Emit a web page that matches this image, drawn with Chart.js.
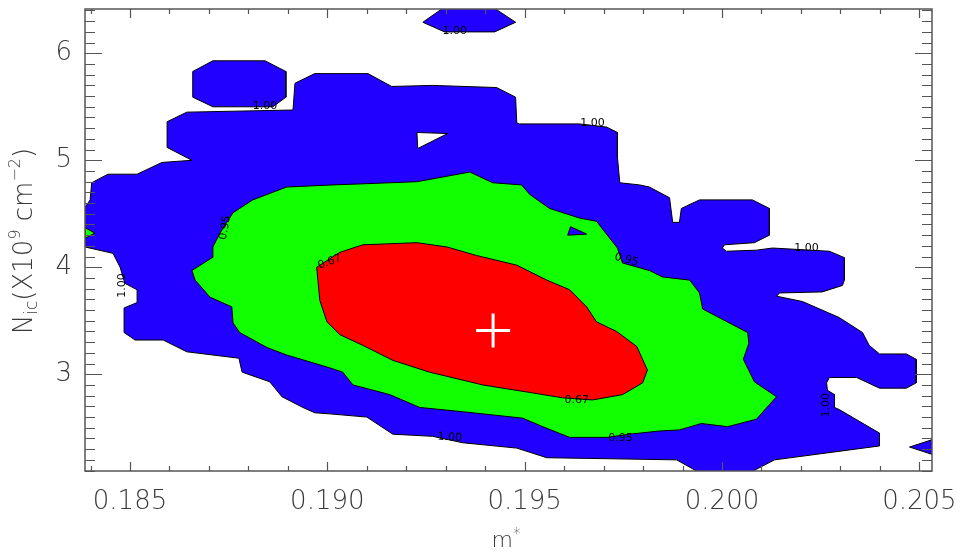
<!DOCTYPE html>
<html lang="en">
<head>
<meta charset="UTF-8">
<title>Contours m* - Nic</title>
<script src="https://cdn.jsdelivr.net/npm/chart.js"></script>
<style>
    html, body { margin: 0; padding: 0; background: #fff; }
    #plot { display: block; }
</style>
</head>
<body>
<canvas id="plot" width="962" height="554"></canvas>
<script>
// axis ranges and ticks
const xRange = [0.18386, 0.20532];
const yRange = [2.096, 6.414];
const xTicks = [0.185, 0.190, 0.195, 0.200, 0.205];
const xTickLabels = ['0.185', '0.190', '0.195', '0.200', '0.205'];
const yTicks = [3, 4, 5, 6];
const yTickLabels = ['3', '4', '5', '6'];
const xMinorStep = 0.001;
const yMinorStep = 0.1;

// level 1.00 (outer) region, [m*, Nic]
const level100 = [
    [0.18386, 4.56], [0.18399, 4.63], [0.18403, 4.79], [0.18444, 4.87], [0.18518, 4.87],
    [0.18581, 4.98], [0.18657, 5.00], [0.18594, 5.12], [0.18594, 5.36], [0.18644, 5.45],
    [0.18913, 5.47], [0.18918, 5.72], [0.18968, 5.81], [0.19103, 5.81], [0.19163, 5.69],
    [0.19267, 5.70], [0.19429, 5.68], [0.19477, 5.59], [0.19480, 5.35], [0.19487, 5.34],
    [0.19639, 5.34], [0.19708, 5.31], [0.19735, 5.26], [0.19735, 5.03], [0.19741, 4.79],
    [0.19791, 4.77], [0.19816, 4.75], [0.19867, 4.65], [0.19875, 4.42], [0.19892, 4.42],
    [0.19897, 4.55], [0.19943, 4.63], [0.20077, 4.63], [0.20120, 4.55], [0.20120, 4.30],
    [0.20082, 4.23], [0.20006, 4.21], [0.20001, 4.18], [0.20011, 4.15], [0.20087, 4.16],
    [0.20128, 4.18], [0.20272, 4.15], [0.20310, 4.09], [0.20310, 3.88], [0.20305, 3.83],
    [0.20254, 3.77], [0.20146, 3.76], [0.20138, 3.73], [0.20204, 3.68], [0.20297, 3.53],
    [0.20356, 3.39], [0.20373, 3.27], [0.20399, 3.19], [0.20467, 3.19], [0.20492, 3.14],
    [0.20492, 2.92], [0.20467, 2.87], [0.20399, 2.87], [0.20341, 2.97], [0.20272, 2.97],
    [0.20265, 2.92], [0.20267, 2.85], [0.20285, 2.81], [0.20285, 2.69], [0.20297, 2.67],
    [0.20399, 2.45], [0.20399, 2.33], [0.20133, 2.20], [0.20070, 2.08], [0.19943, 2.08],
    [0.19885, 2.20], [0.19556, 2.22], [0.19480, 2.31], [0.19343, 2.36], [0.19267, 2.42],
    [0.19166, 2.44], [0.19100, 2.60], [0.19006, 2.63], [0.18968, 2.64], [0.18938, 2.69],
    [0.18885, 2.79], [0.18854, 2.93], [0.18784, 3.02], [0.18776, 3.15], [0.18644, 3.21],
    [0.18584, 3.32], [0.18513, 3.32], [0.18485, 3.39], [0.18485, 3.62], [0.18518, 3.67],
    [0.18518, 3.79], [0.18487, 3.85], [0.18475, 4.00], [0.18457, 4.13], [0.18386, 4.19]
];
// detached level 1.00 islands
const islandTopLeft = [
    [0.18659, 5.83], [0.18710, 5.93], [0.18842, 5.93], [0.18895, 5.83],
    [0.18895, 5.59], [0.18862, 5.50], [0.18710, 5.50], [0.18659, 5.59]
];
const islandTop = [
    [0.19242, 6.29], [0.19292, 6.42], [0.19424, 6.42], [0.19477, 6.29], [0.19424, 6.20], [0.19297, 6.20]
];
const islandRight = [[0.20475, 2.32], [0.20550, 2.41], [0.20550, 2.23]];
const islandInGreen = [[0.19616, 4.38], [0.19657, 4.31], [0.19609, 4.30]];
// hole inside the 1.00 region
const holeInBlue = [[0.19227, 5.26], [0.19305, 5.25], [0.19229, 5.11]];

// level 0.95 region
const level95 = [
    [0.18657, 3.97], [0.18708, 4.09], [0.18710, 4.19], [0.18728, 4.32], [0.18761, 4.51],
    [0.18811, 4.63], [0.18897, 4.75], [0.19014, 4.77], [0.19090, 4.78], [0.19227, 4.80],
    [0.19361, 4.89], [0.19419, 4.79], [0.19492, 4.77], [0.19513, 4.68], [0.19563, 4.55],
    [0.19639, 4.46], [0.19682, 4.43], [0.19703, 4.33], [0.19735, 4.18], [0.19748, 4.04],
    [0.19816, 3.97], [0.19849, 3.91], [0.19918, 3.88], [0.19943, 3.76], [0.19951, 3.61],
    [0.20065, 3.39], [0.20068, 3.29], [0.20054, 3.14], [0.20082, 2.93], [0.20138, 2.79],
    [0.20087, 2.58], [0.20014, 2.51], [0.19948, 2.54], [0.19892, 2.48], [0.19842, 2.47],
    [0.19766, 2.44], [0.19708, 2.41], [0.19614, 2.41], [0.19546, 2.51], [0.19495, 2.59],
    [0.19343, 2.65], [0.19234, 2.69], [0.19158, 2.81], [0.19065, 2.90], [0.19039, 3.02],
    [0.19006, 3.06], [0.18897, 3.18], [0.18847, 3.25], [0.18778, 3.39], [0.18761, 3.48],
    [0.18758, 3.63], [0.18703, 3.72], [0.18665, 3.88]
];
const greenEdge = [[0.18386, 4.37], [0.18411, 4.32], [0.18386, 4.27]];

// level 0.67 region
const level67 = [
    [0.18973, 4.00], [0.19006, 4.08], [0.19032, 4.14], [0.19090, 4.21], [0.19227, 4.23],
    [0.19303, 4.19], [0.19378, 4.11], [0.19480, 4.02], [0.19556, 3.88], [0.19614, 3.79],
    [0.19657, 3.63], [0.19682, 3.49], [0.19733, 3.40], [0.19784, 3.26], [0.19811, 3.04],
    [0.19799, 2.92], [0.19748, 2.81], [0.19672, 2.76], [0.19596, 2.78], [0.19513, 2.83],
    [0.19394, 2.90], [0.19259, 3.02], [0.19166, 3.13], [0.19090, 3.27], [0.19032, 3.37],
    [0.18999, 3.49], [0.18981, 3.69], [0.18976, 3.88]
];

// best fit
const bestFit = [[0.19420, 3.41]];

// contour level labels: text, m*, Nic, angle (deg)
const levelLabels = [
    ['1.00', 0.18842, 5.51, 0],
    ['1.00', 0.19323, 6.21, 0],
    ['1.00', 0.19672, 5.35, 0],
    ['1.00', 0.20214, 4.18, 0],
    ['1.00', 0.18480, 3.83, -90],
    ['1.00', 0.19310, 2.41, 4],
    ['1.00', 0.20265, 2.71, -90],
    ['0.95', 0.19758, 4.07, 15],
    ['0.95', 0.19743, 2.40, 0],
    ['0.95', 0.18741, 4.37, -80],
    ['0.67', 0.19006, 4.05, -20],
    ['0.67', 0.19632, 2.76, 0]
];

const BLUE = '#2200ff';
const GREEN = '#11ff00';
const RED = '#ff0000';
const INK = '#3a3a3a';
const FONT = 'DejaVu Sans';

function region(points, color, order) {
    const pts = points.map(([x, y]) => ({ x, y }));
    pts.push({ x: points[0][0], y: points[0][1] });
    return {
        data: pts,
        showLine: true,
        fill: 'shape',
        backgroundColor: color,
        borderColor: '#000',
        borderWidth: 1,
        pointRadius: 0,
        order: order,
        clip: 0
    };
}

// no edge padding for overhanging tick labels
function noEdgePadding(s) {
    s.paddingLeft = 0; s.paddingRight = 0; s.paddingTop = 0; s.paddingBottom = 0;
}

// frame with inward major/minor ticks on all four sides
const frameTicks = {
    id: 'frameTicks',
    afterDatasetsDraw(chart) {
        const { ctx, chartArea: a, scales: { x, y } } = chart;
        ctx.save();
        ctx.strokeStyle = '#555';
        ctx.lineWidth = 1.5;
        ctx.strokeRect(a.left, a.top, a.right - a.left, a.bottom - a.top);
        ctx.beginPath();
        const k0 = Math.ceil(xRange[0] / xMinorStep), k1 = Math.floor(xRange[1] / xMinorStep);
        for (let k = k0; k <= k1; k++) {
            const px = Math.round(x.getPixelForValue(k * xMinorStep)) + 0.5;
            const len = k % 5 === 0 ? 9 : 5;
            ctx.moveTo(px, a.bottom); ctx.lineTo(px, a.bottom - len);
            ctx.moveTo(px, a.top); ctx.lineTo(px, a.top + len);
        }
        const j0 = Math.ceil(yRange[0] / yMinorStep), j1 = Math.floor(yRange[1] / yMinorStep);
        for (let j = j0; j <= j1; j++) {
            const py = Math.round(y.getPixelForValue(j * yMinorStep)) + 0.5;
            const len = j % 10 === 0 ? 17 : 10;
            ctx.moveTo(a.left, py); ctx.lineTo(a.left + len, py);
            ctx.moveTo(a.right, py); ctx.lineTo(a.right - len, py);
        }
        ctx.lineWidth = 1.2;
        ctx.stroke();

        // level labels
        ctx.fillStyle = '#000';
        ctx.font = '11px "' + FONT + '"';
        ctx.textAlign = 'center';
        ctx.textBaseline = 'middle';
        levelLabels.forEach(([t, lx, ly, ang]) => {
            ctx.save();
            ctx.translate(x.getPixelForValue(lx), y.getPixelForValue(ly));
            ctx.rotate(ang * Math.PI / 180);
            ctx.fillText(t, 0, 0);
            ctx.restore();
        });
        ctx.restore();
    }
};

// axis titles with sub/superscripts
function drawRich(ctx, parts) {
    let w = 0;
    parts.forEach(p => { ctx.font = '200 ' + p[1] + 'px "' + FONT + '"'; w += ctx.measureText(p[0]).width; });
    let cx = -w / 2;
    parts.forEach(p => {
        ctx.font = '200 ' + p[1] + 'px "' + FONT + '"';
        ctx.fillText(p[0], cx, p[2]);
        cx += ctx.measureText(p[0]).width;
    });
}

const axisTitles = {
    id: 'axisTitles',
    afterDraw(chart) {
        const { ctx } = chart;
        ctx.save();
        ctx.fillStyle = INK;
        ctx.textAlign = 'left';
        ctx.textBaseline = 'alphabetic';
        ctx.save();
        ctx.translate(22, 241);
        ctx.rotate(-Math.PI / 2);
        drawRich(ctx, [
            ['N', 26, 10], ['ic', 17, 15], ['(X10', 26, 10], ['9', 16, -2],
            [' cm', 26, 10], ['\u22122', 16, -2], [')', 26, 10]
        ]);
        ctx.restore();
        ctx.translate(506, 547);
        drawRich(ctx, [['m', 22, 0], ['*', 15, -8]]);
        ctx.restore();
    }
};

new Chart(document.getElementById('plot'), {
    type: 'scatter',
    data: {
        datasets: [
            region(level100, BLUE, 10),
            region(islandTopLeft, BLUE, 10),
            region(islandTop, BLUE, 10),
            region(islandRight, BLUE, 10),
            region(holeInBlue, '#ffffff', 9),
            region(level95, GREEN, 8),
            region(greenEdge, GREEN, 8),
            region(islandInGreen, BLUE, 7),
            region(level67, RED, 6),
            {
                data: bestFit.map(([x, y]) => ({ x, y })),
                pointStyle: 'cross',
                pointRadius: 17,
                borderColor: '#ffffff',
                borderWidth: 3,
                order: 0
            }
        ]
    },
    options: {
        responsive: false,
        animation: false,
        events: [],
        layout: { autoPadding: false, padding: { top: 9, right: 30, left: 0, bottom: 0 } },
        plugins: { legend: { display: false }, tooltip: { enabled: false } },
        scales: {
            x: {
                type: 'linear',
                min: xRange[0],
                max: xRange[1],
                grid: { display: false, drawTicks: false },
                border: { display: false },
                afterBuildTicks(s) { s.ticks = xTicks.map(v => ({ value: v })); },
                afterFit(s) { s.height = 83; noEdgePadding(s); },
                ticks: {
                    padding: 16,
                    color: INK,
                    maxRotation: 0,
                    font: { family: FONT, size: 26, weight: 200 },
                    callback: (v, i) => xTickLabels[i]
                }
            },
            y: {
                type: 'linear',
                min: yRange[0],
                max: yRange[1],
                grid: { display: false, drawTicks: false },
                border: { display: false },
                afterBuildTicks(s) { s.ticks = yTicks.map(v => ({ value: v })); },
                afterFit(s) { s.width = 85; noEdgePadding(s); },
                ticks: {
                    padding: 13,
                    color: INK,
                    font: { family: FONT, size: 26, weight: 200 },
                    callback: (v, i) => yTickLabels[i]
                }
            }
        }
    },
    plugins: [frameTicks, axisTitles]
});
</script>
</body>
</html>
